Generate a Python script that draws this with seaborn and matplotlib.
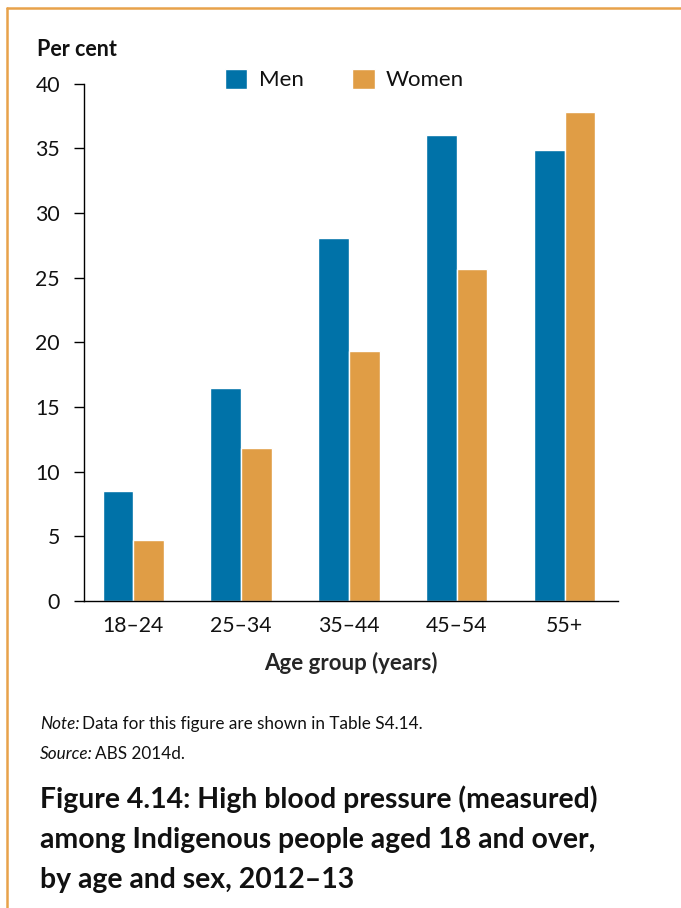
import matplotlib
matplotlib.use("Agg")
import matplotlib.pyplot as plt
from matplotlib.lines import Line2D
import pandas as pd
import seaborn as sns

# values
age_groups = ["18–24", "25–34", "35–44", "45–54", "55+"]
men = [8.5, 16.5, 28.1, 36.0, 34.9]
women = [4.7, 11.8, 19.3, 25.7, 37.8]
y_ticks = [0, 5, 10, 15, 20, 25, 30, 35, 40]

blue = "#0072A8"
orange = "#E09D45"
frame_orange = "#E8A24A"

df = pd.DataFrame({
    "Age group": age_groups * 2,
    "Sex": ["Men"] * len(men) + ["Women"] * len(women),
    "Per cent": men + women,
})

sns.set_theme(style="white")
plt.rcParams["font.family"] = ["Lato", "DejaVu Sans"]
plt.rcParams["text.color"] = "#111111"

W, H = 681, 908
fig = plt.figure(figsize=(W / 100, H / 100), dpi=100)
ax = fig.add_axes([84 / W, 1 - 601 / H, (618 - 84) / W, (601 - 83.7) / H])

sns.barplot(data=df, x="Age group", y="Per cent", hue="Sex",
            palette=[blue, orange], saturation=1, width=0.568, ax=ax)

ax.set_xlim(-0.457, 4.495)
ax.set_ylim(0, 40)
ax.set_yticks(y_ticks)
ax.set_ylabel("")
ax.set_xlabel("Age group (years)", fontsize=16, fontweight="bold", labelpad=11)

sns.despine(ax=ax)
for side in ["left", "bottom"]:
    ax.spines[side].set_color("black")
    ax.spines[side].set_linewidth(1)
ax.tick_params(axis="y", left=True, length=7.2, width=1, pad=10,
               labelsize=15.3, color="black", labelcolor="#111111")
ax.tick_params(axis="x", bottom=False, length=0, pad=11,
               labelsize=15.3, labelcolor="#111111")

ax.legend(loc="center", bbox_to_anchor=(344.5 / W, 1 - 79.5 / H),
          bbox_transform=fig.transFigure, ncol=2, frameon=False,
          fontsize=16, handlelength=1.0, handleheight=1.0,
          handletextpad=0.5, columnspacing=2.2, title=None)

# "Per cent" axis title
fig.text(37 / W, 1 - 56 / H, "Per cent", fontsize=15.5, fontweight="bold", va="baseline")

# note and source lines with italic lead-ins
renderer = fig.canvas.get_renderer()
for lead, rest, base in [("Note:", "Data for this figure are shown in Table S4.14.", 729),
                         ("Source:", "ABS 2014d.", 759)]:
    t = fig.text(40 / W, 1 - base / H, lead, fontsize=12.3, style="italic", va="baseline")
    x1 = t.get_window_extent(renderer).x1
    fig.text((x1 + 2.5) / W, 1 - base / H, rest, fontsize=12.3, va="baseline")

title_lines = ["Figure 4.14: High blood pressure (measured)",
               "among Indigenous people aged 18 and over,",
               "by age and sex, 2012–13"]
for i, line in enumerate(title_lines):
    fig.text(40 / W, 1 - (808 + 40 * i) / H, line, fontsize=20.4,
             fontweight="bold", va="baseline")

# orange frame on the top and left edges
fig.add_artist(Line2D([6.5 / W, 1], [1 - 8 / H, 1 - 8 / H], color=frame_orange,
                      linewidth=1.8, transform=fig.transFigure))
fig.add_artist(Line2D([6.5 / W, 6.5 / W], [0, 1 - 8 / H], color=frame_orange,
                      linewidth=1.8, transform=fig.transFigure))

fig.savefig("out.png", dpi=100)
